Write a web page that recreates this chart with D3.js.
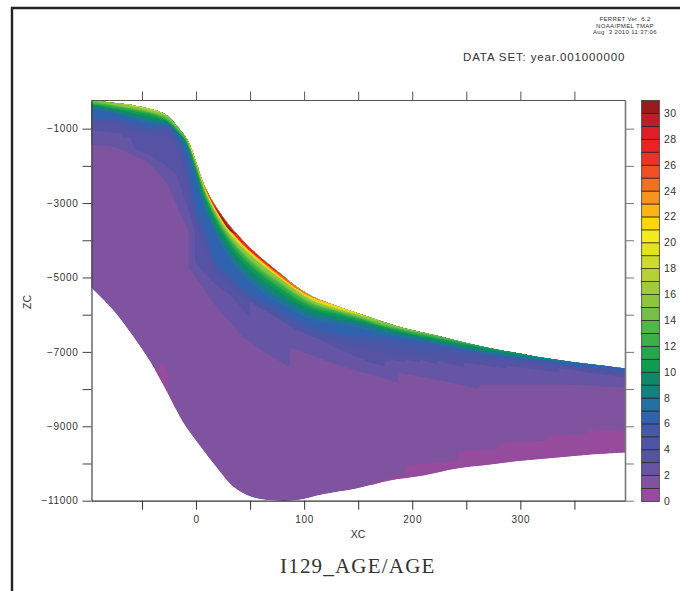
<!DOCTYPE html>
<html><head><meta charset="utf-8">
<script src="https://cdnjs.cloudflare.com/ajax/libs/d3/7.8.5/d3.min.js"></script>
<style>html,body{margin:0;padding:0;background:#fff;overflow:hidden}svg{display:block}
text{font-family:"Liberation Sans",sans-serif;fill:#333}</style></head><body>
<svg id="c" width="680" height="591"></svg>
<script>
// Section grid (XC) and the top surface of the section (ZC)
const gridXC = [-97,-77,-55,-36,-26,-18,-8,0,7,16,31,47,62,78,93,108,124,140,154,170,191,223,253,284,315,346,376,397];
const surfaceZC = [-227,-307,-388,-520,-665,-920,-1301,-1891,-2482,-2992,-3610,-4120,-4523,-4899,-5248,-5517,-5704,-5865,-6000,-6161,-6349,-6564,-6779,-6967,-7128,-7262,-7369,-7450];
// Bottom of the section
const bottomXC = [-97,-77,-58,-42,-27,-12,4,19,34,50,69,93,117,149,179,210,241,272,303,334,365,397];
const bottomZC = [-5275,-5865,-6590,-7288,-8067,-8899,-9543,-10107,-10617,-10885,-10990,-10990,-10832,-10671,-10456,-10322,-10134,-10026,-9919,-9838,-9758,-9704];
// Age contours with stepped outlines
const age2XC = [-97,-75,-45,-27,-15,-7,-7,16,43,70,87,87,133,187,187,226,261,263,300,346,397];
const age2ZC = [-1435,-1489,-1891,-2455,-3261,-3717,-4711,-5678,-6590,-7127,-7422,-6885,-7369,-7825,-7557,-7771,-7986,-7879,-7879,-7879,-7959];
const age3XC = [-97,-70,-67,-61,-57,-43,-29,-18,-7,-1,-1,13,31,50,50,68,96,133,161,175,175,181,193,193,207,207,223,223,248,248,287,287,336,336,397];
const age3ZC = [-1032,-1140,-1274,-1220,-1542,-1703,-1972,-2243,-3180,-3771,-4576,-5060,-5463,-6053,-5516,-5919,-6402,-6939,-7288,-7396,-7275,-7208,-7288,-7208,-7288,-7208,-7342,-7235,-7422,-7288,-7449,-7369,-7557,-7449,-7691];
// Age contours on the shared grid (ZC)
const age4ZC = [-844,-871,-1086,-1166,-1220,-1569,-2509,-3583,-4120,-4738,-5194,-5597,-5865,-6134,-6402,-6590,-6724,-6832,-6912,-6993,-7100,-7181,-7208,-7235,-7315,-7422,-7557,-7610];
const age5ZC = [-777,-804,-978,-1059,-1086,-1408,-2240,-3381,-3851,-4603,-5060,-5490,-5731,-5986,-6268,-6456,-6590,-6698,-6751,-6805,-6899,-6966,-7074,-7181,-7275,-7395,-7490,-7556];
const age6ZC = [-710,-737,-871,-952,-952,-1247,-1972,-3180,-3583,-4469,-4926,-5383,-5597,-5838,-6134,-6322,-6456,-6564,-6590,-6617,-6698,-6752,-6940,-7128,-7235,-7369,-7422,-7503];
// Thickness below the surface of the older waters (ZC units)
const age7Thick  = [240,270,375,375,240,215,295,485,620,725,885,940,885,805,700,620,510,430,375,350,270,240,190,135,80,27,0,0];
const age8Thick  = [200,230,320,320,215,190,240,400,510,620,765,820,765,700,605,525,430,360,305,280,215,190,150,95,55,13,0,0];
const age9Thick  = [160,190,270,270,190,160,190,320,405,510,645,700,645,590,510,430,350,295,240,215,160,135,107,54,27,0,0,0];
const age10Thick = [135,160,215,215,160,135,150,255,320,415,550,590,550,500,430,360,295,240,200,175,135,107,65,27,13,0,0,0];
const age11Thick = [107,135,160,160,135,107,107,190,240,320,455,485,455,405,350,295,240,190,160,135,107,80,27,0,0,0,0,0];
const age12Thick = [95,107,135,135,120,95,95,150,200,280,400,430,400,350,295,255,200,160,135,120,80,54,13,0,0,0,0,0];
const age13Thick = [80,80,107,107,107,80,80,107,160,240,350,375,350,295,240,215,160,135,107,107,54,27,0,0,0,0,0,0];
const age14Thick = [40,67,95,95,67,40,40,80,135,215,320,335,310,255,215,190,150,107,95,80,40,13,0,0,0,0,0,0];
const age15Thick = [0,54,80,80,27,0,0,54,107,190,295,295,270,215,190,160,135,80,80,54,27,0,0,0,0,0,0,0];
const age18Thick = [0,0,27,27,0,0,0,27,80,135,215,190,160,135,107,107,80,54,27,0,0,0,0,0,0,0,0,0];
const age21Thick = [0,0,0,0,0,0,0,27,54,107,134,134,107,107,80,54,54,27,0,0,0,0,0,0,0,0,0,0];
const age24Thick = [0,0,0,0,0,0,0,0,27,80,107,107,80,80,54,27,0,0,0,0,0,0,0,0,0,0,0,0];
const age27Thick = [0,0,0,0,0,0,0,0,0,54,80,80,54,27,0,0,0,0,0,0,0,0,0,0,0,0,0,0];
// Oldest lens just under the surface
const age30XC = [17,24,31,37];
const age30Upper = [30,45,45,30];
const age30Lower = [40,125,125,40];
// Youngest water patches
const patchAXC = [-42,-38,-31,-26,-25,-19,-19];
const patchAZC = [-7745,-7476,-7288,-7557,-8148,-8417,-8685];
const patchBXC = [162,170,182,193,193,242,243,280,281,325,325,362,363,394,397,397,162];
const patchBZC = [-10483,-10483,-10349,-10349,-10053,-9919,-9677,-9597,-9436,-9382,-9248,-9221,-9087,-9114,-8953,-11000,-11000];
// Colour key
const keyColors = ["#974b9c","#7f539f","#6655a4","#5653a4","#4f55a5","#4559a9","#2f63b0","#24709f","#15807f","#0f8a68","#0f9b50","#25a84c","#3bb04b","#50b748","#75bf47","#8cc63f","#a2cb3c","#b6d134","#cddb2f","#e3e41e","#f4eb1e","#ffd60a","#fdb614","#f7941e","#f47021","#f14e24","#f0312a","#ee2024","#de1f26","#bb1f26","#9c1a1e"];
const keyLabels = [0,2,4,6,8,10,12,14,16,18,20,22,24,26,28,30];
const xTicks = [-50,0,50,100,150,200,250,300,350];
const yTicks = [-1000,-2000,-3000,-4000,-5000,-6000,-7000,-8000,-9000,-10000,-11000];
const xLabels = [0,100,200,300];
const yLabels = [-1000,-3000,-5000,-7000,-9000,-11000];
const headerLines = ["FERRET Ver. 6.2","NOAA/PMEL TMAP","Aug\u00a0\u00a03 2010 11:37:06"];
const datasetText = "DATA SET: year.001000000";
const titleText = "I129_AGE/AGE";

const svg = d3.select("#c");
const x = d3.scaleLinear().domain([-96.7,396.8]).range([91.5,625]);
const y = d3.scaleLinear().domain([-230,-11000]).range([100,500.7]);
const surf = d3.scaleLinear().domain(gridXC).range(surfaceZC);
const ink = "#333";

// outer page border
svg.append("path").attr("d",d3.line()([[12,591],[12,8],[680,8]])).attr("fill","none").attr("stroke","#222").attr("stroke-width",2.4);

const defs = svg.append("defs");
const line = d3.line().x(d=>x(d[0])).y(d=>y(d[1]));
const smooth = d3.line().x(d=>x(d[0])).y(d=>y(d[1])).curve(d3.curveCatmullRom.alpha(0.5));
const surfacePts = d3.zip(gridXC,surfaceZC);
const bottomPts = d3.zip(bottomXC,bottomZC);
const sectionPath = smooth(surfacePts)+"L"+smooth(bottomPts.slice().reverse()).slice(1)+"Z";
defs.append("clipPath").attr("id","sec").append("path").attr("d",sectionPath);

const g = svg.append("g").attr("clip-path","url(#sec)");
g.append("path").attr("d",sectionPath).attr("fill",keyColors[1]);
g.append("path").attr("d",line(d3.zip(patchAXC,patchAZC))+"Z").attr("fill",keyColors[0]);
g.append("path").attr("d",line(d3.zip(patchBXC,patchBZC))+"Z").attr("fill",keyColors[0]);

// each age region fills from the top of the plot down to its contour, and the section clip trims it
const topZ = y.domain()[0];
const stepped = d3.area().x(d=>x(d[0])).y0(y(topZ)).y1(d=>y(d[1]));
const curved = d3.area().x(d=>x(d[0])).y0(y(topZ)).y1(d=>y(d[1])).curve(d3.curveMonotoneX);
[[age2XC,age2ZC,2],[age3XC,age3ZC,3]].forEach(([xs,zs,c])=>{
  g.append("path").attr("d",stepped(d3.zip(xs,zs))).attr("fill",keyColors[c]);
});
[[age4ZC,4],[age5ZC,5],[age6ZC,6]].forEach(([zs,c])=>{
  g.append("path").attr("d",curved(d3.zip(gridXC,zs))).attr("fill",keyColors[c]);
});
[[age7Thick,7],[age8Thick,8],[age9Thick,9],[age10Thick,10],[age11Thick,11],[age12Thick,12],[age13Thick,13],[age14Thick,14],[age15Thick,15],[age18Thick,18],[age21Thick,21],[age24Thick,24],[age27Thick,27]].forEach(([t,c])=>{
  const pts = gridXC.map((v,i)=>[v,surfaceZC[i]-t[i]]).filter((p,i)=>t[i]>0||t[i-1]>0||t[i+1]>0);
  g.append("path").attr("d",curved(pts)).attr("fill",keyColors[c]);
});
const lens = d3.area().x(d=>x(d[0])).y0(d=>y(surf(d[0])-d[1])).y1(d=>y(surf(d[0])-d[2])).curve(d3.curveMonotoneX);
g.append("path").attr("d",lens(d3.zip(age30XC,age30Upper,age30Lower))).attr("fill",keyColors[30]);

// axes
function styleAxis(a,color,w){
  a.select(".domain").attr("stroke",color).attr("stroke-width",w);
  a.selectAll(".tick line").attr("stroke",color).attr("stroke-width",1);
  a.selectAll("text").attr("font-size",10).attr("letter-spacing",0.7).attr("fill",ink).attr("font-family","Liberation Sans");
}
const xB = svg.append("g").attr("transform","translate(0,500.7)").call(d3.axisBottom(x).tickValues(xTicks).tickSize(9).tickPadding(6).tickSizeOuter(0).tickFormat(d=>xLabels.includes(d)?d:""));
styleAxis(xB,"#333",1.2);
const xT = svg.append("g").attr("transform","translate(0,100)").call(d3.axisTop(x).tickValues(xTicks).tickSize(8.5).tickSizeOuter(0).tickFormat(""));
styleAxis(xT,"#555",1.2);
const yL = svg.append("g").attr("transform","translate(91.5,0)").call(d3.axisLeft(y).tickValues(yTicks).tickSize(9).tickPadding(4).tickSizeOuter(0).tickFormat(d=>yLabels.includes(d)?String(d).replace("-","\u2212"):""));
styleAxis(yL,"#444",1.2);
const yR = svg.append("g").attr("transform","translate(625,0)").call(d3.axisRight(y).tickValues(yTicks).tickSize(9).tickSizeOuter(0).tickFormat(""));
styleAxis(yR,"#777",1.6);

// colour key
const key = d3.scaleLinear().domain([0,31]).range([501.5,100.5]);
svg.append("g").selectAll("rect").data(keyColors).join("rect")
  .attr("x",641.7).attr("width",17.6)
  .attr("y",(d,i)=>key(i+1)).attr("height",(d,i)=>key(i)-key(i+1))
  .attr("fill",d=>d).attr("stroke","#222").attr("stroke-width",0.7);
svg.append("g").selectAll("text").data(keyLabels).join("text")
  .attr("x",664).attr("y",d=>key(d)+3.5).attr("font-size",10.5).attr("letter-spacing",0.3).text(d=>d);

// texts
svg.append("text").attr("x",358).attr("y",538).attr("text-anchor","middle").attr("font-size",10.5).text("XC");
svg.append("text").attr("transform","translate(31,302) rotate(-90)").attr("text-anchor","middle").attr("font-size",10.5).text("ZC");
svg.append("g").selectAll("text").data(headerLines).join("text")
  .attr("x",625).attr("y",(d,i)=>21+i*6.5).attr("text-anchor","middle").attr("font-size",6).attr("letter-spacing",0.35).attr("fill","#111").text(d=>d);
svg.append("text").attr("x",463).attr("y",61).attr("font-size",11.5).attr("letter-spacing",0.87).text(datasetText);
svg.append("text").attr("x",280).attr("y",572.5).attr("font-size",21).attr("letter-spacing",1.2).attr("fill","#222")
  .style("font-family","'Liberation Serif',serif").text(titleText);
</script></body></html>
